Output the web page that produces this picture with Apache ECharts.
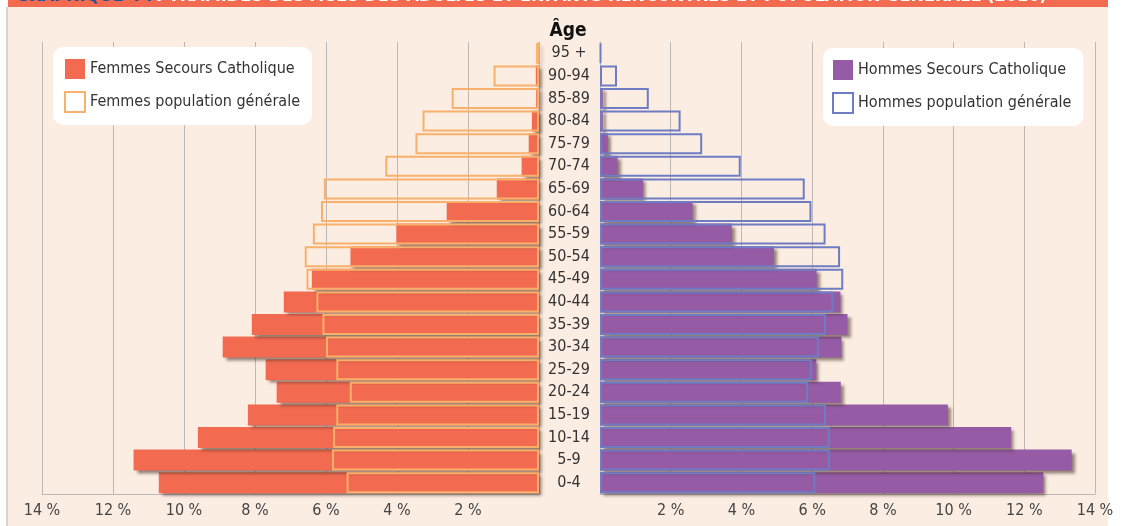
<!DOCTYPE html>
<html>
<head>
<meta charset="utf-8">
<script src="https://cdn.jsdelivr.net/npm/echarts@6/dist/echarts.min.js"></script>
<style>
  html, body { margin: 0; padding: 0; background: #ffffff; }
  #chart { width: 1131px; height: 526px; }
</style>
</head>
<body>
<div id="chart"></div>
<script>
// age groups, bottom to top
var ages = ["0-4", "5-9", "10-14", "15-19", "20-24", "25-29", "30-34", "35-39", "40-44", "45-49",
  "50-54", "55-59", "60-64", "65-69", "70-74", "75-79", "80-84", "85-89", "90-94", "95 +"];

// shares in %
var femmesSC = [10.71, 11.42, 9.61, 8.2, 7.39, 7.7, 8.91, 8.09, 7.19, 6.4,
  5.31, 4.02, 2.6, 1.19, 0.49, 0.29, 0.2, 0.08, 0.09, 0.02];
var femmesPop = [5.42, 5.83, 5.8, 5.71, 5.33, 5.71, 6.0, 6.1, 6.27, 6.55,
  6.6, 6.37, 6.14, 6.06, 4.33, 3.48, 3.28, 2.46, 1.28, 0.08];
var hommesSC = [12.54, 13.34, 11.63, 9.84, 6.81, 6.12, 6.83, 7.0, 6.8, 6.13,
  4.92, 3.73, 2.62, 1.22, 0.5, 0.22, 0.08, 0.08, 0, 0];
var hommesPop = [6.09, 6.5, 6.5, 6.39, 5.89, 5.99, 6.19, 6.39, 6.6, 6.88,
  6.79, 6.38, 5.98, 5.79, 3.98, 2.89, 2.28, 1.38, 0.48, 0.03];

var pctMax = 14;
var pctStep = 2;

var font = "'Liberation Sans Narrow', 'DejaVu Sans Condensed', 'Roboto', sans-serif";
var gridColor = "#bdb8b4";

var chart = echarts.init(document.getElementById("chart"));

function pctAxis(grid, inverse) {
  return {
    type: "value",
    gridIndex: grid,
    inverse: inverse,
    min: 0,
    max: pctMax,
    interval: pctStep,
    axisLine: { show: true, lineStyle: { color: gridColor } },
    axisTick: { show: false },
    splitLine: { show: true, lineStyle: { color: gridColor, width: 1 } },
    axisLabel: {
      color: "#444",
      fontFamily: font,
      fontSize: 16,
      margin: 9,
      formatter: function (v) { return v === 0 ? "" : v + " %"; }
    }
  };
}

var shadow = { shadowColor: "rgba(60,40,30,0.55)", shadowBlur: 3, shadowOffsetX: 3, shadowOffsetY: 3 };

var option = {
  backgroundColor: "#ffffff",
  animation: false,
  graphic: [
    { type: "rect", shape: { x: 8, y: 0, width: 1100, height: 526 }, style: { fill: "#fcede3" }, z: -10,
      silent: true },
    { type: "rect", shape: { x: 6, y: 7, width: 2, height: 519 }, style: { fill: "#d9d4d0" }, z: -10 },
    { type: "rect", shape: { x: 8, y: 0, width: 1100, height: 7 }, style: { fill: "#f26b50" }, z: -5 },
    {
      type: "text", x: 16, y: 5, z: -4,
      style: {
        text: "{a|GRAPHIQUE 4 :} {b|PYRAMIDES DES ÂGES DES ADULTES ET ENFANTS RENCONTRÉS ET POPULATION GÉNÉRALE (2016)}",
        verticalAlign: "bottom",
        rich: {
          a: { fill: "#1d4f9a", font: "bold 18px " + font },
          b: { fill: "#ffffff", font: "bold 18px " + font }
        }
      }
    },
    {
      type: "text", x: 568, y: 31,
      style: { text: "Âge", fill: "#111", font: "bold 19px " + font, align: "center", verticalAlign: "middle" }
    }
  ],
  legend: [
    {
      orient: "vertical", left: 53, top: 47,
      backgroundColor: "#ffffff", borderRadius: 10, padding: [12, 12, 12, 11],
      itemWidth: 20, itemHeight: 20, itemGap: 12, icon: "rect",
      textStyle: { color: "#333", fontFamily: font, fontSize: 16 },
      itemStyle: { shadowBlur: 0, shadowOffsetX: 0, shadowOffsetY: 0 },
      data: [
        { name: "Femmes Secours Catholique" },
        { name: "Femmes population générale", itemStyle: { color: "#ffffff" } }
      ]
    },
    {
      orient: "vertical", left: 823, top: 48,
      backgroundColor: "#ffffff", borderRadius: 10, padding: [12, 12, 12, 9],
      itemWidth: 20, itemHeight: 20, itemGap: 12, icon: "rect",
      textStyle: { color: "#333", fontFamily: font, fontSize: 16 },
      itemStyle: { shadowBlur: 0, shadowOffsetX: 0, shadowOffsetY: 0 },
      data: [
        { name: "Hommes Secours Catholique" },
        { name: "Hommes population générale", itemStyle: { color: "#ffffff" } }
      ]
    }
  ],
  grid: [
    { left: 42, width: 497, top: 42, bottom: 32 },
    { left: 600, width: 495, top: 42, bottom: 32 }
  ],
  xAxis: [pctAxis(0, true), pctAxis(1, false)],
  yAxis: [
    {
      type: "category", gridIndex: 0, data: ages, position: "right",
      axisLine: { show: true, lineStyle: { color: gridColor } },
      axisTick: { show: false }, axisLabel: { show: false }
    },
    {
      type: "category", gridIndex: 1, data: ages, position: "left",
      axisLine: { show: true, lineStyle: { color: gridColor } },
      axisTick: { show: false },
      axisLabel: { color: "#333", fontFamily: font, fontSize: 16, align: "center", margin: 31 }
    }
  ],
  series: [
    {
      name: "Femmes Secours Catholique", type: "bar", xAxisIndex: 0, yAxisIndex: 0,
      data: femmesSC, barCategoryGap: "7%", barGap: "-100%",
      itemStyle: Object.assign({ color: "#f26a50" }, shadow)
    },
    {
      name: "Femmes population générale", type: "bar", xAxisIndex: 0, yAxisIndex: 0,
      data: femmesPop, barCategoryGap: "7%", barGap: "-100%",
      itemStyle: { color: "rgba(0,0,0,0)", borderColor: "#f8b06a", borderWidth: 2 }
    },
    {
      name: "Hommes Secours Catholique", type: "bar", xAxisIndex: 1, yAxisIndex: 1,
      data: hommesSC, barCategoryGap: "7%", barGap: "-100%",
      itemStyle: Object.assign({ color: "#955ba5" }, shadow)
    },
    {
      name: "Hommes population générale", type: "bar", xAxisIndex: 1, yAxisIndex: 1,
      data: hommesPop, barCategoryGap: "7%", barGap: "-100%",
      itemStyle: { color: "rgba(0,0,0,0)", borderColor: "#6e7dc3", borderWidth: 2 }
    }
  ]
};

chart.setOption(option);
</script>
</body>
</html>
